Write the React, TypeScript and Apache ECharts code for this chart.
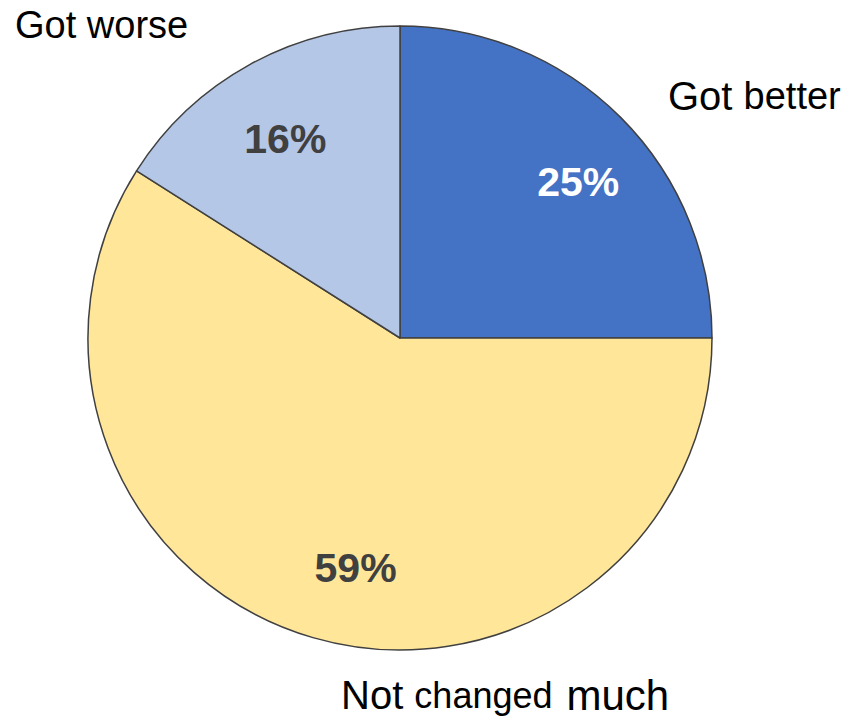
import React, { useEffect, useRef } from "react";
import * as echarts from "echarts";

const categories = ["Got better", "Not changed much", "Got worse"];
const values = [25, 59, 16];
const colors = ["#4472C4", "#FFE699", "#B4C7E7"];
const pctColors = ["#FFFFFF", "#404040", "#404040"];
// rich-text version of each category (big / small words)
const richNames = ["{b|Got }{t|better}", "{b|Not }{s|changed }{m|much}", "{w|Got worse}"];
// small nudges of the percentage labels (style)
const pctNudges = [
  [10, 12],
  [22, 1],
  [0, 10],
];

export default function App() {
  const ref = useRef<HTMLDivElement>(null);
  useEffect(() => {
    document.body.style.margin = "0";
    const chart = echarts.init(ref.current!, null, { renderer: "svg" });
    const font = "Liberation Sans, Arial, sans-serif";
    const rich = {
      b: { fontSize: 40, fontFamily: font, color: "#000" },
      t: { fontSize: 38, fontFamily: font, color: "#000" },
      s: { fontSize: 36, fontFamily: font, color: "#000" },
      m: { fontSize: 42, fontFamily: font, color: "#000", padding: [0, 0, 0, 4] },
      w: { fontSize: 38, fontFamily: font, color: "#000" },
    };
    const data = categories.map((c, i) => ({
      name: c,
      value: values[i],
      itemStyle: { color: colors[i] },
    }));
    const pctData = categories.map((c, i) => ({
      name: c,
      value: values[i],
      label: { color: pctColors[i], offset: pctNudges[i] },
    }));
    chart.setOption({
      animation: false,
      backgroundColor: "#ffffff",
      series: [
        {
          type: "pie",
          center: [400, 338],
          radius: 312,
          startAngle: 90,
          clockwise: true,
          silent: true,
          itemStyle: { borderColor: "#404040", borderWidth: 1.5 },
          label: { show: false },
          labelLine: { show: false },
          data,
        },
        {
          type: "pie",
          center: [400, 338],
          radius: [0, 470],
          startAngle: 90,
          clockwise: true,
          silent: true,
          itemStyle: { color: "rgba(0,0,0,0)", borderWidth: 0 },
          label: {
            show: true,
            position: "inside",
            formatter: (p: any) => p.value + "%",
            fontSize: 41,
            fontWeight: "bold",
            fontFamily: font,
          },
          labelLine: { show: false },
          data: pctData,
        },
      ],
      graphic: [
        {
          type: "text",
          left: 668,
          top: 76,
          style: { text: richNames[0], rich },
        },
        {
          type: "text",
          left: 341,
          top: 674,
          style: { text: richNames[1], rich },
        },
        {
          type: "text",
          left: 15,
          top: 6,
          style: { text: richNames[2], rich },
        },
      ],
    });
    return () => chart.dispose();
  }, []);
  return (
    <div
      ref={ref}
      style={{ position: "fixed", left: 0, top: 0, width: 851, height: 721 }}
    />
  );
}
